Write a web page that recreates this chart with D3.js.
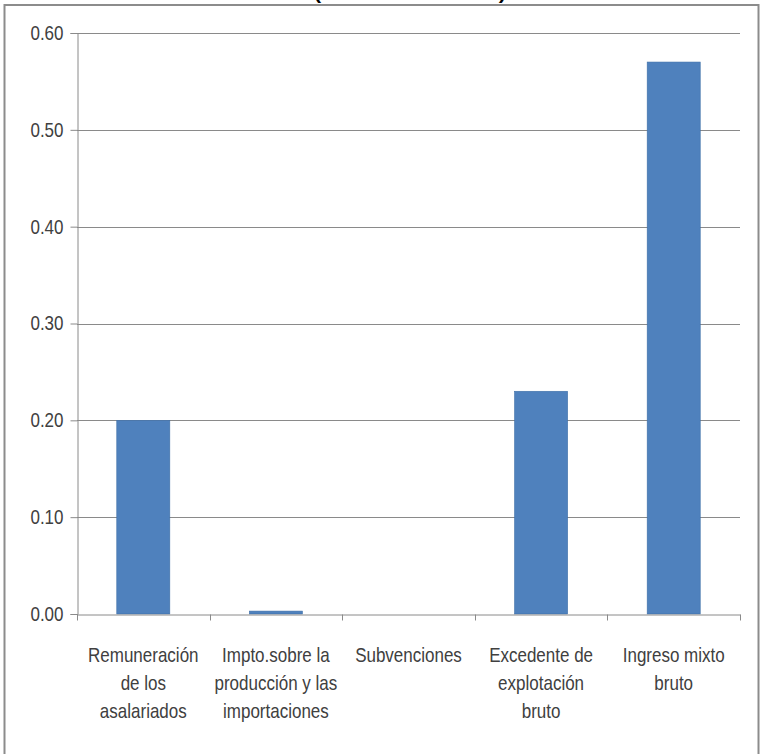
<!DOCTYPE html>
<html>
<head>
<meta charset="utf-8">
<script src="https://cdn.jsdelivr.net/npm/d3@7"></script>
<style>
  html, body { margin: 0; padding: 0; background: #fff; }
  svg { display: block; }
  text { font-family: "Liberation Sans", Arial, sans-serif; fill: #404040; }
</style>
</head>
<body>
<svg id="chart" width="761" height="754"></svg>
<script>
const categories = [
  ["Remuneración", "de los", "asalariados"],
  ["Impto.sobre la", "producción y las", "importaciones"],
  ["Subvenciones"],
  ["Excedente de", "explotación", "bruto"],
  ["Ingreso mixto", "bruto"]
];
const values = [0.20, 0.003, 0.0, 0.23, 0.57];
const yTicks = [0.00, 0.10, 0.20, 0.30, 0.40, 0.50, 0.60];
const titleText = "(Millones de soles)";

const SX = 0.85; // horizontal condensation to mimic a narrow font

const svg = d3.select("#chart");
const W = 761, H = 754;
const m = { left: 77, right: 21, top: 33, bottom: 140 };
const plotW = W - m.left - m.right;   // 663
const plotH = H - m.top - m.bottom;   // 581

// outer frame
svg.append("rect")
  .attr("x", 4.5).attr("y", 5).attr("width", 754).attr("height", 760)
  .attr("fill", "none").attr("stroke", "#8c8c8c").attr("stroke-width", 2);

// clipped title (only bottom of parentheses visible, as in the reference)
svg.append("text")
  .attr("x", 410).attr("y", -1.5)
  .attr("text-anchor", "middle")
  .attr("textLength", 192).attr("lengthAdjust", "spacingAndGlyphs")
  .style("font-weight", "bold").style("font-size", "18px").style("fill", "#000")
  .text(titleText);

const g = svg.append("g").attr("transform", `translate(${m.left},${m.top})`);

const x = d3.scaleBand().domain(d3.range(categories.length)).range([0, plotW]).paddingInner(0).paddingOuter(0);
const y = d3.scaleLinear().domain([0, 0.60]).range([plotH, 0]);

// gridlines
g.selectAll("line.grid").data(yTicks.filter(t => t > 0)).enter().append("line")
  .attr("x1", 0).attr("x2", plotW)
  .attr("y1", d => Math.round(y(d)) + 0.5).attr("y2", d => Math.round(y(d)) + 0.5)
  .attr("stroke", "#8a8a8a").attr("stroke-width", 1);

// bars
const bw = x.bandwidth() * 0.40;
g.selectAll("rect.bar").data(values).enter().append("rect")
  .attr("x", (d, i) => x(i) + (x.bandwidth() - bw) / 2)
  .attr("y", d => y(d))
  .attr("width", bw)
  .attr("height", d => plotH - y(d))
  .attr("fill", "#4f81bd")
  .attr("stroke", d => d > 0 ? "#3f6fa8" : "none")
  .attr("stroke-width", 0.6);

// y axis
const yAxis = d3.axisLeft(y).tickValues(yTicks).tickFormat(d3.format(".2f")).tickSize(7).tickPadding(7);
const ya = g.append("g").attr("transform", "translate(0.5,0)").call(yAxis);
ya.attr("font-family", null);
ya.select(".domain").attr("stroke", "#8a8a8a");
ya.selectAll(".tick line").attr("stroke", "#8a8a8a");
ya.selectAll(".tick text")
  .style("font-size", "20px").style("fill", "#404040")
  .attr("x", -14 / SX)
  .attr("transform", `scale(${SX},1)`);

// x axis
const xAxis = d3.axisBottom(x).tickSize(0).tickFormat("");
const xa = g.append("g").attr("transform", `translate(0,${plotH + 0.5})`).call(xAxis);
xa.select(".domain").attr("stroke", "#8a8a8a");
const sepTicks = d3.range(categories.length + 1).map(i => i * x.step());
xa.selectAll("line.sep").data(sepTicks).enter().append("line")
  .attr("x1", d => Math.round(d) + 0.5).attr("x2", d => Math.round(d) + 0.5)
  .attr("y1", 0).attr("y2", 6).attr("stroke", "#8a8a8a");

// category labels
categories.forEach((lines, i) => {
  const cx = x(i) + x.bandwidth() / 2;
  const t = g.append("g")
    .attr("transform", `translate(${cx},${plotH + 48}) scale(${SX},1)`)
    .append("text")
    .attr("text-anchor", "middle")
    .style("font-size", "20px");
  lines.forEach((ln, j) => {
    t.append("tspan").attr("x", 0).attr("y", j * 28).text(ln);
  });
});
</script>
</body>
</html>
